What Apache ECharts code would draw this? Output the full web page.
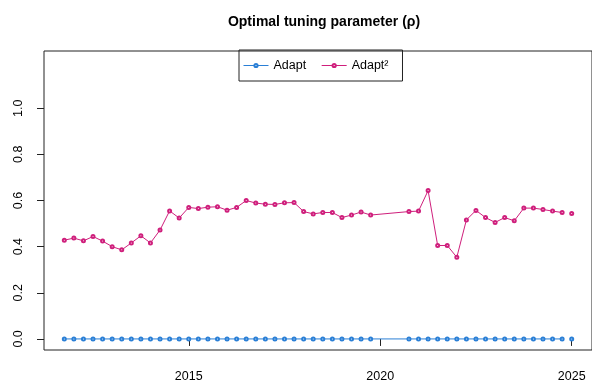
<!DOCTYPE html>
<html>
<head>
<meta charset="utf-8">
<script src="https://cdn.jsdelivr.net/npm/echarts@6/dist/echarts.min.js"></script>
<style>
  html, body { margin: 0; padding: 0; background: #fff; }
  #chart { width: 592px; height: 387px; }
</style>
</head>
<body>
<div id="chart"></div>
<script>
// Quarterly observation dates (decimal years); no estimates for 2020 Q1-Q3
const dates = [
  2011.75, 2012.00, 2012.25, 2012.50, 2012.75, 2013.00, 2013.25, 2013.50, 2013.75,
  2014.00, 2014.25, 2014.50, 2014.75, 2015.00, 2015.25, 2015.50, 2015.75,
  2016.00, 2016.25, 2016.50, 2016.75, 2017.00, 2017.25, 2017.50, 2017.75,
  2018.00, 2018.25, 2018.50, 2018.75, 2019.00, 2019.25, 2019.50, 2019.75,
  2020.75, 2021.00, 2021.25, 2021.50, 2021.75, 2022.00, 2022.25, 2022.50, 2022.75,
  2023.00, 2023.25, 2023.50, 2023.75, 2024.00, 2024.25, 2024.50, 2024.75,
  2025.00
];

// Optimal rho for the Adapt estimator
const adapt = [
  0, 0, 0, 0, 0, 0, 0, 0, 0,
  0, 0, 0, 0, 0, 0, 0, 0,
  0, 0, 0, 0, 0, 0, 0, 0,
  0, 0, 0, 0, 0, 0, 0, 0,
  0, 0, 0, 0, 0, 0, 0, 0, 0,
  0, 0, 0, 0, 0, 0, 0, 0,
  0
];

// Optimal rho for the Adapt² estimator
const adapt2 = [
  0.428, 0.437, 0.425, 0.444, 0.424, 0.400, 0.386, 0.416, 0.447,
  0.416, 0.472, 0.555, 0.524, 0.570, 0.565, 0.571, 0.573,
  0.558, 0.570, 0.600, 0.589, 0.584, 0.583, 0.590, 0.591,
  0.552, 0.542, 0.548, 0.548, 0.526, 0.537, 0.550, 0.537,
  0.552, 0.554, 0.643, 0.405, 0.405, 0.354, 0.516, 0.557, 0.526,
  0.505, 0.526, 0.512, 0.567, 0.567, 0.561, 0.554, 0.548,
  0.544
];

// The final quarter is plotted on its own, not joined to the previous one
const lineBreaks = [2025.00];

const yTicks = [0, 0.2, 0.4, 0.6, 0.8, 1.0];
const xTicks = [2015, 2020, 2025];

const seriesNames = ['Adapt', 'Adapt\u00b2'];
const seriesColors = ['#2a7fd6', '#cf1f7c'];

function buildData(values) {
  const out = [];
  dates.forEach(function (d, i) {
    if (lineBreaks.indexOf(d) !== -1) out.push([d, '-']);
    out.push([d, values[i]]);
  });
  return out;
}

const chart = echarts.init(document.getElementById('chart'), null, { renderer: 'canvas' });

const font = 'Liberation Sans, Arial, Helvetica, sans-serif';

function lineSeries(name, values, color) {
  return {
    name: name,
    type: 'line',
    data: buildData(values),
    connectNulls: false,
    symbol: 'emptyCircle',
    symbolSize: 3,
    showAllSymbol: true,
    lineStyle: { color: color, width: 1 },
    itemStyle: { color: color, borderColor: color, borderWidth: 1 },
    emphasis: { disabled: true },
    animation: false
  };
}

chart.setOption({
  animation: false,
  backgroundColor: '#ffffff',
  title: {
    text: 'Optimal tuning parameter (\u03c1)',
    left: 319,
    textAlign: 'center',
    top: 10,
    textStyle: { fontFamily: font, fontSize: 14, fontWeight: 'bold', color: '#000' }
  },
  legend: {
    data: seriesNames,
    left: 239,
    top: 50,
    orient: 'horizontal',
    itemWidth: 25,
    itemHeight: 4,
    itemGap: 15,
    padding: [9, 14, 9, 4],
    borderColor: '#222',
    borderWidth: 1,
    lineStyle: { width: 1 },
    itemStyle: { borderWidth: 1 },
    textStyle: { fontFamily: font, fontSize: 12.5, color: '#000' }
  },
  grid: {
    left: 44,
    top: 51,
    right: -5,
    bottom: 37,
    show: true,
    borderColor: '#222',
    borderWidth: 1,
    backgroundColor: 'transparent'
  },
  xAxis: {
    type: 'value',
    min: 2011.22,
    max: 2025.53,
    splitLine: { show: false },
    axisLine: { show: false },
    axisTick: { show: true, length: 7, customValues: xTicks, lineStyle: { color: '#222' } },
    axisLabel: {
      customValues: xTicks,
      margin: 20,
      fontFamily: font,
      fontSize: 12.5,
      color: '#000',
      formatter: function (v) { return String(v); }
    }
  },
  yAxis: {
    type: 'value',
    min: -0.048,
    max: 1.248,
    splitLine: { show: false },
    axisLine: { show: false },
    axisTick: { show: true, length: 7, customValues: yTicks, lineStyle: { color: '#222' } },
    axisLabel: {
      customValues: yTicks,
      rotate: 90,
      margin: 19,
      fontFamily: font,
      fontSize: 12.5,
      color: '#000',
      formatter: function (v) { return v.toFixed(1); }
    }
  },
  series: [
    lineSeries(seriesNames[0], adapt, seriesColors[0]),
    lineSeries(seriesNames[1], adapt2, seriesColors[1])
  ]
});
</script>
</body>
</html>
